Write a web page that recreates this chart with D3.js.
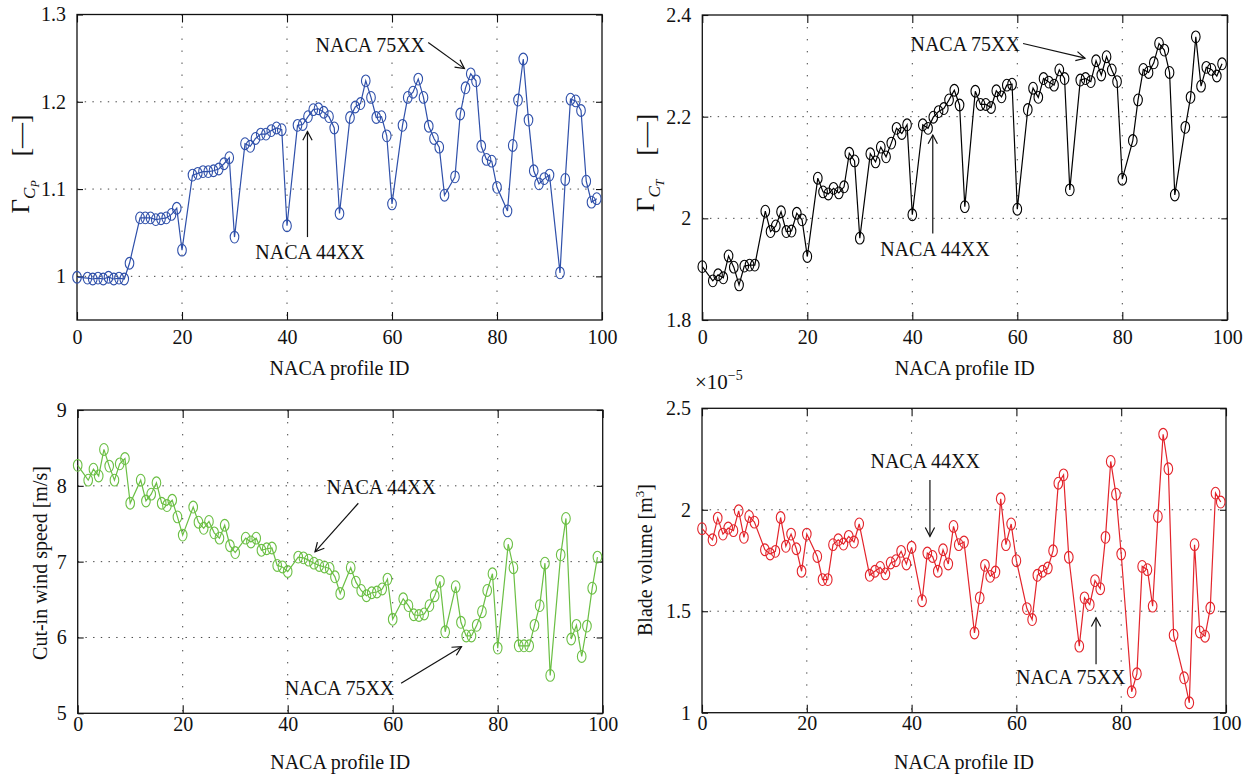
<!DOCTYPE html>
<html>
<head>
<meta charset="utf-8">
<script src="https://cdn.jsdelivr.net/npm/d3@7"></script>
<style>
  body { margin: 0; background: #fff; }
  svg text { font-family: "Liberation Serif", "Times New Roman", serif; fill: #111; }
</style>
</head>
<body>
<svg id="chart" width="1254" height="780"></svg>
<script>
// NACA profile IDs (ID = 10*camber digit + position digit; the x1 positions are not part of the set)
const profileIds = [0,
  2, 3, 4, 5, 6, 7, 8, 9, 10,
  12, 13, 14, 15, 16, 17, 18, 19, 20,
  22, 23, 24, 25, 26, 27, 28, 29, 30,
  32, 33, 34, 35, 36, 37, 38, 39, 40,
  42, 43, 44, 45, 46, 47, 48, 49, 50,
  52, 53, 54, 55, 56, 57, 58, 59, 60,
  62, 63, 64, 65, 66, 67, 68, 69, 70,
  72, 73, 74, 75, 76, 77, 78, 79, 80,
  82, 83, 84, 85, 86, 87, 88, 89, 90,
  92, 93, 94, 95, 96, 97, 98, 99];

// Power coefficient ratio
const gammaCp = [0.999,
  0.998, 0.997, 0.998, 0.997, 0.999, 0.997, 0.998, 0.997, 1.015,
  1.067, 1.067, 1.067, 1.065, 1.066, 1.067, 1.071, 1.078, 1.030,
  1.116, 1.118, 1.120, 1.120, 1.121, 1.123, 1.129, 1.136, 1.045,
  1.152, 1.149, 1.158, 1.163, 1.163, 1.167, 1.170, 1.168, 1.058,
  1.173, 1.174, 1.183, 1.191, 1.192, 1.188, 1.183, 1.170, 1.072,
  1.182, 1.194, 1.198, 1.224, 1.205, 1.182, 1.183, 1.161, 1.083,
  1.173, 1.205, 1.211, 1.226, 1.205, 1.172, 1.158, 1.148, 1.093,
  1.114, 1.186, 1.216, 1.232, 1.224, 1.149, 1.134, 1.132, 1.102,
  1.075, 1.150, 1.202, 1.249, 1.179, 1.121, 1.106, 1.112, 1.116,
  1.004, 1.111, 1.203, 1.201, 1.190, 1.109, 1.085, 1.089];

// Thrust coefficient ratio
const gammaCt = [1.905,
  1.877, 1.889, 1.883, 1.926, 1.904, 1.869, 1.906, 1.908, 1.908,
  2.014, 1.974, 1.985, 2.013, 1.974, 1.975, 2.010, 1.997, 1.925,
  2.079, 2.052, 2.048, 2.059, 2.050, 2.062, 2.128, 2.113, 1.961,
  2.127, 2.111, 2.140, 2.121, 2.148, 2.177, 2.167, 2.184, 2.007,
  2.184, 2.177, 2.199, 2.210, 2.216, 2.233, 2.252, 2.223, 2.023,
  2.250, 2.224, 2.224, 2.218, 2.251, 2.239, 2.262, 2.264, 2.018,
  2.214, 2.256, 2.238, 2.275, 2.268, 2.262, 2.292, 2.275, 2.056,
  2.272, 2.275, 2.269, 2.310, 2.282, 2.318, 2.292, 2.269, 2.077,
  2.153, 2.233, 2.293, 2.287, 2.306, 2.344, 2.331, 2.287, 2.046,
  2.179, 2.238, 2.357, 2.260, 2.297, 2.293, 2.280, 2.304];

// Cut-in wind speed [m/s]
const cutInSpeed = [8.27,
  8.075, 8.22, 8.13, 8.48, 8.26, 8.075, 8.29, 8.36, 7.77,
  8.075, 7.80, 7.89, 8.04, 7.77, 7.74, 7.81, 7.59, 7.35,
  7.72, 7.52, 7.44, 7.53, 7.38, 7.31, 7.48, 7.21, 7.12,
  7.31, 7.26, 7.31, 7.15, 7.17, 7.18, 6.95, 6.93, 6.87,
  7.06, 7.05, 7.02, 6.98, 6.95, 6.93, 6.91, 6.80, 6.58,
  6.92, 6.73, 6.62, 6.55, 6.59, 6.60, 6.64, 6.77, 6.24,
  6.51, 6.42, 6.30, 6.29, 6.31, 6.42, 6.55, 6.74, 6.075,
  6.67, 6.20, 6.02, 6.02, 6.16, 6.34, 6.62, 6.84, 5.86,
  7.23, 6.92, 5.89, 5.89, 5.89, 6.16, 6.42, 6.98, 5.50,
  7.09, 7.57, 5.98, 6.16, 5.75, 6.15, 6.65, 7.06];

// Blade volume, in units of 1e-5 m^3
const bladeVolume = [1.907,
  1.852, 1.959, 1.880, 1.910, 1.897, 1.995, 1.864, 1.967, 1.939,
  1.803, 1.782, 1.795, 1.962, 1.820, 1.880, 1.808, 1.697, 1.880,
  1.770, 1.656, 1.656, 1.828, 1.852, 1.831, 1.869, 1.841, 1.930,
  1.677, 1.697, 1.716, 1.684, 1.738, 1.749, 1.795, 1.733, 1.815,
  1.552, 1.787, 1.770, 1.697, 1.803, 1.733, 1.918, 1.828, 1.841,
  1.393, 1.566, 1.726, 1.672, 1.693, 2.054, 1.828, 1.930, 1.749,
  1.513, 1.459, 1.677, 1.697, 1.713, 1.798, 2.131, 2.172, 1.766,
  1.328, 1.566, 1.533, 1.651, 1.611, 1.864, 2.238, 2.077, 1.782,
  1.103, 1.192, 1.721, 1.705, 1.525, 1.967, 2.372, 2.202, 1.382,
  1.172, 1.049, 1.828, 1.398, 1.377, 1.516, 2.082, 2.038];

const xTicks = [0, 20, 40, 60, 80, 100];
const cpTicks = [1, 1.1, 1.2, 1.3];
const ctTicks = [1.8, 2, 2.2, 2.4];
const speedTicks = [5, 6, 7, 8, 9];
const volumeTicks = [1, 1.5, 2, 2.5];

const svg = d3.select("#chart");

const panels = [
  { values: gammaCp, color: "#2f50aa", box: [77, 14.5, 602, 320], yDomain: [0.95, 1.3], yTicks: cpTicks,
    yLabel: "cp", yLabelPos: [20, 164], xLabelY: 375, xPad: 10,
    notes: [
      { text: "NACA 75XX", at: [66.3, 1.2566], anchor: "end", from: [66.9, 1.268], to: [73.8, 1.238] },
      { text: "NACA 44XX", at: [44.4, 1.0203], anchor: "middle", from: [43.9, 1.045], to: [43.9, 1.166] }
    ] },
  { values: gammaCt, color: "#000000", box: [702.3, 15, 1227.3, 320], yDomain: [1.8, 2.4], yTicks: ctTicks,
    yLabel: "ct", yLabelPos: [645, 163], xLabelY: 375, xPad: 10,
    notes: [
      { text: "NACA 75XX", at: [60.5, 2.3296], anchor: "end", from: [61.1, 2.344], to: [72.9, 2.315] },
      { text: "NACA 44XX", at: [44.3, 1.926], anchor: "middle", from: [43.9, 1.970], to: [43.9, 2.164] }
    ] },
  { values: cutInSpeed, color: "#6bbf44", box: [77.7, 410, 602.7, 713.3], yDomain: [5, 9], yTicks: speedTicks,
    yLabel: "Cut-in wind speed [m/s]", yLabelPos: [40, 563], xLabelY: 769, xPad: 3,
    notes: [
      { text: "NACA 44XX", at: [47.4, 7.893], anchor: "start", from: [53.45, 7.77], to: [45.2, 7.13] },
      { text: "NACA 75XX", at: [60.3, 5.241], anchor: "end", from: [61.6, 5.396], to: [73.1, 5.879] }
    ] },
  { values: bladeVolume, color: "#e3242b", box: [702, 408.3, 1226, 712.7], yDomain: [1, 2.5], yTicks: volumeTicks,
    yLabel: "volume", yLabelPos: [645, 560], xLabelY: 769, xPad: 3, exponent: true,
    notes: [
      { text: "NACA 44XX", at: [42.6, 2.204], anchor: "middle", from: [43.5, 2.147], to: [43.5, 1.869] },
      { text: "NACA 75XX", at: [80.8, 1.1434], anchor: "end", from: [75.2, 1.239], to: [75.2, 1.468] }
    ] }
];

function arrow(g, x1, y1, x2, y2) {
  g.append("line").attr("x1", x1).attr("y1", y1).attr("x2", x2).attr("y2", y2)
    .attr("stroke", "#111").attr("stroke-width", 1.2);
  const ang = Math.atan2(y2 - y1, x2 - x1);
  const len = 10, spread = Math.PI / 6.5;
  const pts = [ang + Math.PI - spread, ang + Math.PI + spread].map(a => [x2 + len * Math.cos(a), y2 + len * Math.sin(a)]);
  g.append("path")
    .attr("d", `M${pts[0][0]},${pts[0][1]} L${x2},${y2} L${pts[1][0]},${pts[1][1]}`)
    .attr("fill", "none").attr("stroke", "#111").attr("stroke-width", 1.2);
}

panels.forEach(p => {
  const [left, top, right, bottom] = p.box;
  const x = d3.scaleLinear().domain([0, 100]).range([left, right]);
  const y = d3.scaleLinear().domain(p.yDomain).range([bottom, top]);
  const g = svg.append("g");

  // dotted grid
  g.append("g").selectAll("line").data(xTicks.filter(t => t > 0 && t < 100)).join("line")
    .attr("x1", d => x(d)).attr("x2", d => x(d)).attr("y1", top).attr("y2", bottom)
    .attr("stroke", "#444").attr("stroke-width", 1).attr("stroke-dasharray", "1.4,10.6");
  g.append("g").selectAll("line").data(p.yTicks.filter(t => t > p.yDomain[0] && t < p.yDomain[1])).join("line")
    .attr("x1", left).attr("x2", right).attr("y1", d => y(d)).attr("y2", d => y(d))
    .attr("stroke", "#444").attr("stroke-width", 1).attr("stroke-dasharray", "1.4,6.3");

  // axes with inward ticks on all four sides
  const fmt = d3.format("~g");
  const axB = g.append("g").attr("transform", `translate(0,${bottom})`)
    .call(d3.axisBottom(x).tickValues(xTicks).tickSize(-8).tickSizeOuter(0).tickPadding(p.xPad).tickFormat(fmt));
  const axT = g.append("g").attr("transform", `translate(0,${top})`)
    .call(d3.axisTop(x).tickValues(xTicks).tickSize(-8).tickSizeOuter(0).tickFormat(""));
  const axL = g.append("g").attr("transform", `translate(${left},0)`)
    .call(d3.axisLeft(y).tickValues(p.yTicks).tickSize(-6).tickSizeOuter(0).tickPadding(11).tickFormat(fmt));
  const axR = g.append("g").attr("transform", `translate(${right},0)`)
    .call(d3.axisRight(y).tickValues(p.yTicks).tickSize(-6).tickSizeOuter(0).tickFormat(""));
  [axB, axT, axL, axR].forEach(a => {
    a.select(".domain").remove();
    a.selectAll(".tick line").attr("stroke", "#111").attr("stroke-width", 1.1);
    a.selectAll("text").attr("font-size", 20).attr("fill", "#111")
      .style("font-family", '"Liberation Serif", "Times New Roman", serif');
  });

  g.append("rect").attr("x", left).attr("y", top).attr("width", right - left).attr("height", bottom - top)
    .attr("fill", "none").attr("stroke", "#111").attr("stroke-width", 1.3);

  // series line and markers
  const pts = profileIds.map((id, i) => [id, p.values[i]]);
  g.append("path").datum(pts)
    .attr("d", d3.line().x(d => x(d[0])).y(d => y(d[1])))
    .attr("fill", "none").attr("stroke", p.color).attr("stroke-width", 1.2);
  g.append("g").selectAll("ellipse").data(pts).join("ellipse")
    .attr("cx", d => x(d[0])).attr("cy", d => y(d[1])).attr("rx", 4.3).attr("ry", 5.9)
    .attr("fill", "none").attr("stroke", p.color).attr("stroke-width", 1.1);

  // annotations
  p.notes.forEach(n => {
    g.append("text").attr("x", x(n.at[0])).attr("y", y(n.at[1]))
      .attr("text-anchor", n.anchor).attr("font-size", 20).text(n.text);
    arrow(g, x(n.from[0]), y(n.from[1]), x(n.to[0]), y(n.to[1]));
  });

  // x label
  g.append("text").attr("x", (left + right) / 2).attr("y", p.xLabelY)
    .attr("text-anchor", "middle").attr("font-size", 20).text("NACA profile ID");

  // y label
  const yl = g.append("text")
    .attr("transform", `translate(${p.yLabelPos[0]},${p.yLabelPos[1]}) rotate(-90)`)
    .attr("text-anchor", "middle").attr("dy", "0.35em").attr("font-size", 25);
  if (p.yLabel === "cp" || p.yLabel === "ct") {
    yl.append("tspan").text("Γ");
    yl.append("tspan").attr("font-size", 17).attr("font-style", "italic").attr("dy", 6).text("C");
    yl.append("tspan").attr("font-size", 12).attr("font-style", "italic").attr("dy", 4)
      .text(p.yLabel === "cp" ? "P" : "T");
    yl.append("tspan").attr("dy", -10).attr("dx", 24).text("[—]");
  } else if (p.yLabel === "volume") {
    yl.attr("font-size", 20);
    yl.append("tspan").text("Blade volume [m");
    yl.append("tspan").attr("font-size", 13).attr("dy", -8).text("3");
    yl.append("tspan").attr("dy", 8).text("]");
  } else {
    yl.attr("font-size", 20).text(p.yLabel);
  }

  if (p.exponent) {
    const ex = g.append("text").attr("x", left - 7).attr("y", top - 19).attr("font-size", 21);
    ex.append("tspan").text("×10");
    ex.append("tspan").attr("font-size", 14).attr("dy", -9).text("−5");
  }
});
</script>
</body>
</html>
